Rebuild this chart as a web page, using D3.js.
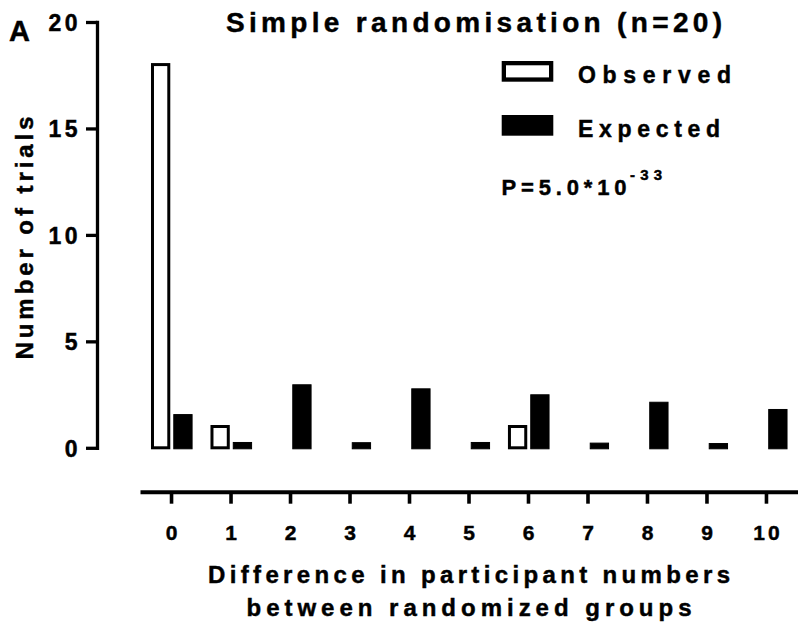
<!DOCTYPE html>
<html>
<head>
<meta charset="utf-8">
<script src="https://cdn.jsdelivr.net/npm/d3@7"></script>
<style>
  html, body { margin: 0; padding: 0; background: #fff; }
  svg { display: block; }
  text { font-family: "Liberation Sans", Arial, Helvetica, sans-serif; font-weight: bold; fill: #000; stroke: #000; stroke-width: 0.45px; }
</style>
</head>
<body>
<svg id="chart" width="798" height="623"></svg>
<script>
// Difference in participant numbers between randomized groups
const categories = [0, 1, 2, 3, 4, 5, 6, 7, 8, 9, 10];
const observed   = [18, 1, 0, 0, 0, 0, 1, 0, 0, 0, 0];
const expected   = [1.56, 0.25, 2.96, 0.24, 2.77, 0.25, 2.49, 0.22, 2.14, 0.2, 1.8];
const seriesNames = ["Observed", "Expected"];
const yTicks = [0, 5, 10, 15, 20];

const svg = d3.select("#chart");

const x = d3.scaleBand()
  .domain(categories)
  .range([140, 798])
  .paddingInner(0)
  .paddingOuter(0.03);

const xSeries = d3.scaleBand()
  .domain(seriesNames)
  .range([9.2, 50.8])
  .paddingInner(0.1345);

const y = d3.scaleLinear().domain([0, 20]).range([447.8, 22]);

// bars
const rows = categories.map((c, i) => ({ cat: c, Observed: observed[i], Expected: expected[i] }));

const groups = svg.append("g").selectAll("g")
  .data(rows)
  .join("g")
  .attr("transform", d => `translate(${x(d.cat)},0)`);

const obsStroke = 3;
groups.filter(d => d.Observed > 0)
  .append("rect")
  .attr("x", xSeries("Observed") + obsStroke / 2)
  .attr("width", xSeries.bandwidth() - obsStroke)
  .attr("y", d => y(d.Observed))
  .attr("height", d => y(0) - y(d.Observed))
  .attr("fill", "#fff")
  .attr("stroke", "#000")
  .attr("stroke-width", obsStroke);

groups.append("rect")
  .attr("x", xSeries("Expected") + 0.5)
  .attr("width", xSeries.bandwidth() - 1)
  .attr("y", d => y(d.Expected))
  .attr("height", d => y(0) - y(d.Expected) + 1)
  .attr("fill", "#000")
  .attr("stroke", "#000")
  .attr("stroke-width", 1);

// y axis
const yAxis = svg.append("g")
  .attr("transform", "translate(97,0)")
  .call(d3.axisLeft(y).tickValues(yTicks).tickSize(11).tickSizeOuter(0).tickPadding(5));
yAxis.select(".domain").attr("stroke-width", 3.3).attr("stroke-linecap", "square");
yAxis.selectAll(".tick line").attr("stroke-width", 3.3);
yAxis.selectAll(".tick text")
  .style("font-size", "23px")
  .style("letter-spacing", "3.5px")
  .attr("dy", "0.36em");

// x axis, detached below the plot
const xAxis = svg.append("g")
  .attr("transform", "translate(0,491.7)")
  .call(d3.axisBottom(x).tickSize(12).tickSizeOuter(0).tickPadding(21));
xAxis.select(".domain").attr("stroke-width", 4);
xAxis.selectAll(".tick line").attr("stroke-width", 3.6);
xAxis.selectAll(".tick text")
  .style("font-size", "21px")
  .style("letter-spacing", "3px")
  .attr("dx", "1.5px");

// title and panel letter
svg.append("text")
  .attr("x", 226).attr("y", 31.5)
  .attr("textLength", 496).attr("lengthAdjust", "spacing")
  .style("font-size", "28px")
  .text("Simple randomisation (n=20)");

svg.append("text")
  .attr("x", 9).attr("y", 40.5)
  .style("font-size", "29px")
  .text("A");

// axis titles
svg.append("text")
  .attr("transform", "translate(33,238) rotate(-90)")
  .attr("text-anchor", "middle")
  .attr("textLength", 243).attr("lengthAdjust", "spacing")
  .style("font-size", "24px")
  .text("Number of trials");

svg.append("text")
  .attr("x", 208).attr("y", 582.5)
  .attr("textLength", 522).attr("lengthAdjust", "spacing")
  .style("font-size", "24px")
  .text("Difference in participant numbers");

svg.append("text")
  .attr("x", 246.5).attr("y", 616)
  .attr("textLength", 445).attr("lengthAdjust", "spacing")
  .style("font-size", "24px")
  .text("between randomized groups");

// legend
const legend = svg.append("g");
legend.append("rect")
  .attr("x", 503.85).attr("y", 63.15).attr("width", 47.3).attr("height", 16.4)
  .attr("fill", "#fff").attr("stroke", "#000").attr("stroke-width", 4.3);
legend.append("rect")
  .attr("x", 501.7).attr("y", 115).attr("width", 51.6).attr("height", 20.7)
  .attr("fill", "#000");
legend.append("text")
  .attr("x", 578).attr("y", 83.3)
  .attr("textLength", 153).attr("lengthAdjust", "spacing")
  .style("font-size", "23px")
  .text(seriesNames[0]);
legend.append("text")
  .attr("x", 578).attr("y", 136.7)
  .attr("textLength", 142).attr("lengthAdjust", "spacing")
  .style("font-size", "23px")
  .text(seriesNames[1]);

// p-value annotation
svg.append("text")
  .attr("x", 501.5).attr("y", 195)
  .attr("textLength", 125).attr("lengthAdjust", "spacing")
  .style("font-size", "22px")
  .text("P=5.0*10");
svg.append("text")
  .attr("x", 630).attr("y", 180)
  .attr("textLength", 32).attr("lengthAdjust", "spacing")
  .style("font-size", "15px")
  .text("-33");
</script>
</body>
</html>
